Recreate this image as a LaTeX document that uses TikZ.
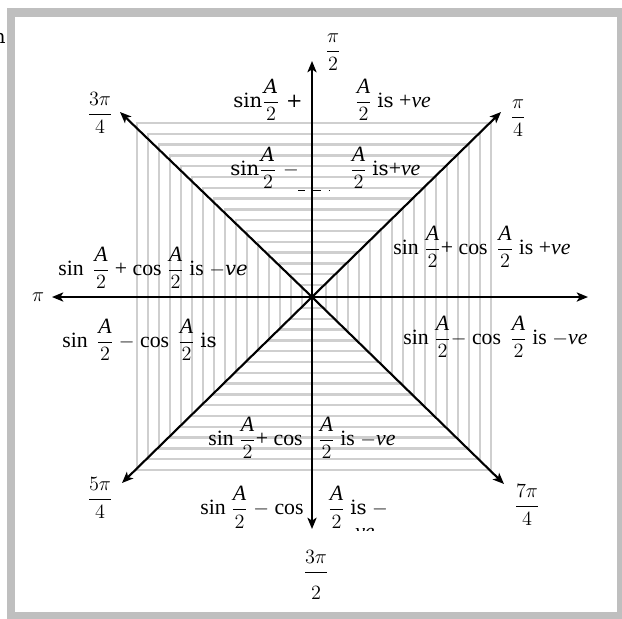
\documentclass[tikz,border=0pt]{standalone}
\usepackage{amsmath}
\usepackage{fontspec}
\setmainfont{Liberation Serif}
\newfontfamily\cam[Scale=0.9]{DejaVu Serif}
\usetikzlibrary{arrows.meta,positioning,calc}
\newcommand{\hA}{$\dfrac{\textit{A}}{2}$}
\newcommand{\ve}{\textit{ve}}

\begin{document}
\begin{tikzpicture}[x=0.025cm,y=-0.025cm,
  axis/.style={line width=1.5pt,-{Stealth[length=8pt,width=6.5pt,inset=2pt]}},
  hatch/.style={draw=gray!38,line width=1.6pt},
  frame/.style={draw=gray!50,line width=5.8pt},
  lbl/.style={font=\fontsize{15.5}{18}\selectfont,inner sep=0pt,anchor=west},
  ang/.style={font=\fontsize{15}{18}\selectfont,inner sep=0pt}
]
\useasboundingbox (0,0) rectangle (622,618);
% outer frame
\draw[frame] (11,12.5) rectangle (621,616);
\node[font=\cam\fontsize{15}{18}\selectfont,anchor=east,inner sep=0pt] (cut) at (6,38) {n};
% concentric squares
\foreach \i in {0,...,15}
  \draw[hatch] (314-177+11*\i,296.5-173.5+10.8*\i) rectangle (314+177-11*\i,296.5+173.5-10.8*\i);
% centre and axis ends
\coordinate (O) at (312,297);
\coordinate (N) at (312,61);
\coordinate (S) at (312,529);
\coordinate (W) at (52,297);
\coordinate (E) at (588,297);
\coordinate (NE) at (501,112);
\coordinate (NW) at (120,112);
\coordinate (SW) at (122,483);
\coordinate (SE) at (504,484);
\foreach \t in {N,S,W,E,NE,NW,SW,SE}
  \draw[axis] (O) -- (\t);
% angle labels
\node[ang] (pi2) at (333,52) {$\dfrac{\pi}{2}$};
\node[ang] (tpi4) at (100,113) {$\dfrac{3\pi}{4}$};
\node[ang] (pi4) at (518,118) {$\dfrac{\pi}{4}$};
\node[ang] (pi) at (38,297) {$\pi$};
\node[ang] (fpi4) at (100,498) {$\dfrac{5\pi}{4}$};
\node[ang] (spi4) at (527,505) {$\dfrac{7\pi}{4}$};
\node[ang] (tpi2) at (316,575) {$\dfrac{3\pi}{\rule{0pt}{17pt}2}$};
% quadrant texts
\node[lbl] (ta) at (233,100) {\cam sin\hA{} +};
\node[lbl] (tb) at (355,100) {\hA{} {\cam is} +\ve};
\node[lbl] (ua) at (230,168) {\cam sin\hA{} $-$};
\node[lbl] (ub) at (350,168) {\hA{} {\cam is}+\ve};
\draw[dashed,line width=0.6pt,dash pattern=on 5pt off 6pt] (298,190) -- (330,190);
\node[lbl] (ra) at (393,247) {sin \hA+ cos\, \hA{} is +\ve};
\node[lbl] (rb) at (403,337) {sin \hA$-$ cos\, \hA{} is $-$\ve};
\node[lbl] (la) at (58,268) {sin\, \hA{} + cos \hA{} is $-${\cam\itshape ve}};
\node[lbl] (lb) at (62,340) {sin\, \hA{} $-$ cos\, \hA{} {\cam is}};
\node[lbl] (ba) at (208,438) {sin \hA+ cos};
\node[lbl] (bb) at (318,438) {\hA{} is $-$\ve};
\node[lbl] (ca) at (200,507) {sin \hA{} $-$ cos};
\begin{scope}
  \clip (320,470) rectangle (400,530);
  \node[lbl] (cb) at (328,507) {\hA{} {\cam is} $-$};
  \node[lbl] (cv) at (355,533) {\ve};
\end{scope}
\end{tikzpicture}
\end{document}
